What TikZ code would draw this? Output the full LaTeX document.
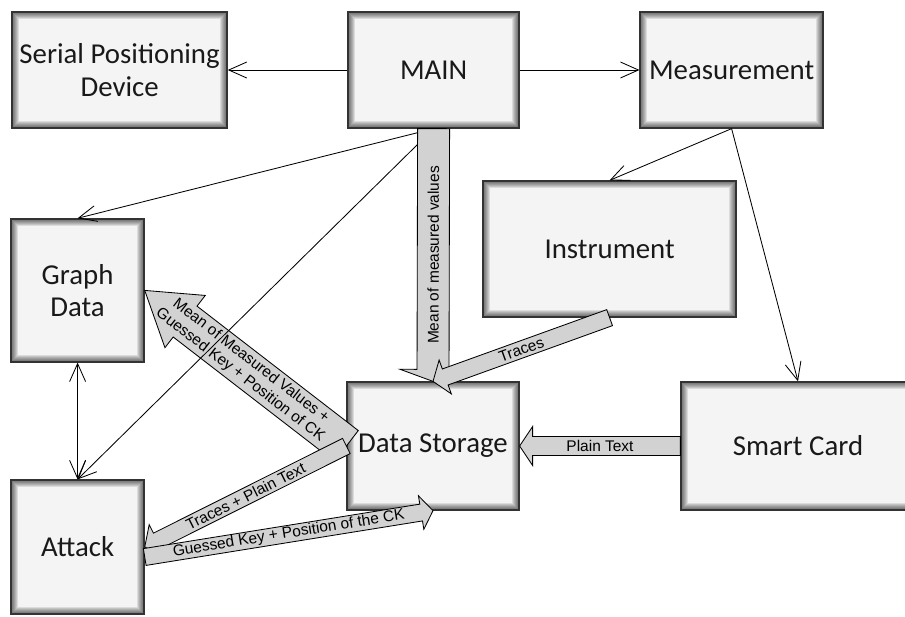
\documentclass[tikz,border=0pt]{standalone}
\usepackage{fontspec}
\setmainfont{Carlito}
\newfontfamily\labelfont{Liberation Sans}
\usetikzlibrary{arrows.meta, calc}

\definecolor{boxfill}{HTML}{F4F4F4}
\definecolor{boxline}{HTML}{333333}
\definecolor{flowfill}{HTML}{D2D2D2}

% fat arrow with its text along it
% [text angle offset]{text name}{from}{to}{shaft}{head}{head length}{text}
\newcommand\flowarrow[8][0]{%
  \path let \p1=($(#4)-(#3)$) in \pgfextra{%
    \pgfmathsetmacro\tmpang{atan2(\y1,\x1)}%
    \pgfmathsetmacro\tmplen{veclen(\x1,\y1)/28.45274}%
    \xdef\flowang{\tmpang}\xdef\flowlen{\tmplen}};
  \pgfmathsetmacro\flowneck{\flowlen-#7}%
  \begin{scope}[shift={(#3)}, rotate=\flowang]
    \filldraw[flow] (0,-#5/2) -- (\flowneck,-#5/2) -- (\flowneck,-#6/2) -- (\flowlen,0)
      -- (\flowneck,#6/2) -- (\flowneck,#5/2) -- (0,#5/2) -- cycle;
    \node[flowlabel, rotate=\flowang+#1] (#2) at (\flowlen/2,0) {#8};
  \end{scope}}

\begin{document}
\begin{tikzpicture}[
  block/.style={rectangle, draw=boxline, line width=0.9pt, fill=boxfill, text=black!90,
    align=center, font=\fontsize{20.5}{23}\selectfont,
    path picture={\foreach \k in {1,...,7}
      \draw[black, opacity=.1, line width=\k*0.5mm]
        (path picture bounding box.south west) rectangle (path picture bounding box.north east);}},
  link/.style={draw, line width=0.6pt, >={Straight Barb[length=4.5mm, width=4mm]}},
  flow/.style={draw=black, fill=flowfill, line width=0.6pt, line join=miter},
  flowlabel/.style={font=\labelfont\fontsize{11}{12.5}\selectfont, inner sep=0pt, align=center}]
\useasboundingbox (0,0) rectangle (22.625,-15.4);

% top row
\node[block, minimum width=5.375cm, minimum height=2.9cm] (spd) at (2.99,-1.75) {Serial Positioning\\Device};
\node[block, minimum width=4.275cm, minimum height=2.9cm] (main) at (10.84,-1.75) {MAIN};
\node[block, minimum width=4.575cm, minimum height=2.9cm] (meas) at (18.29,-1.75) {Measurement};
% middle
\node[block, minimum width=6.325cm, minimum height=3.4cm] (instr) at (15.24,-6.225) {Instrument};
\node[block, minimum width=3.325cm, minimum height=3.575cm] (graph) at (1.94,-7.26) {Graph\\Data};
% bottom row
\node[block, minimum width=4.3cm, minimum height=3.2cm] (ds) at (10.825,-11.15) {Data Storage};
\node[block, minimum width=5.85cm, minimum height=3.2cm] (card) at (19.95,-11.15) {Smart Card};
\node[block, minimum width=3.325cm, minimum height=3.35cm] (attack) at (1.94,-13.675) {Attack};
\coordinate (keyout) at ($(attack.east)+(0,-0.25)$);

% data back to the graph
\flowarrow[180]{gdlabel}{ds.west}{graph.east}{0.975}{1.65}{1.275}{Mean of Measured Values +\\Guessed Key + Position of CK}

% control lines
\draw[link, ->] (main.west) -- (spd.east);
\draw[link, ->] (main.east) -- (meas.west);
\draw[link, ->] (meas.south) -- (instr.north);
\draw[link, ->] (meas.south) -- (card.north);
\draw[link, ->] (main.south) -- (graph.north);
\draw[link, ->] (main.south) -- (attack.north);
\draw[link, <->] (graph.south) -- (attack.north);

% data flows
\flowarrow[180]{meanlabel}{main.south}{ds.north}{0.8}{1.65}{0.3}{Mean of measured values}
\flowarrow[180]{traceslabel}{instr.south}{ds.north}{0.425}{0.9}{0.325}{Traces}
\flowarrow[180]{attacklabel}{ds.west}{attack.east}{0.425}{0.9}{0.35}{Traces + Plain Text}
\flowarrow{keylabel}{keyout}{ds.south}{0.425}{0.85}{0.3}{Guessed Key + Position of the CK}
\flowarrow[180]{plainlabel}{card.west}{ds.east}{0.475}{0.975}{0.325}{Plain Text}
\end{tikzpicture}
\end{document}
